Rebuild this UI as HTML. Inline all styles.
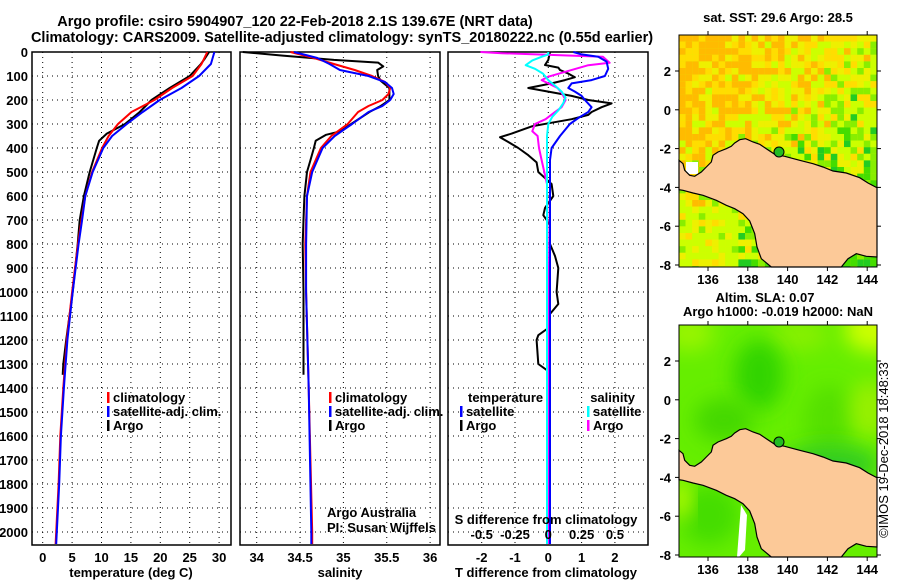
<!DOCTYPE html>
<html><head><meta charset="utf-8"><style>
html,body{margin:0;padding:0;background:#fff;}
svg{display:block;font-family:"Liberation Sans",sans-serif;}
.b{font-weight:bold;font-size:13px;}
.t{font-weight:bold;font-size:14.5px;}
</style></head><body>
<svg id="c" width="900" height="580" viewBox="0 0 900 580" xmlns="http://www.w3.org/2000/svg">
<text class="t" x="295" y="26" text-anchor="middle">Argo profile: csiro 5904907_120 22-Feb-2018 2.1S 139.67E (NRT data)</text>
<text class="t" x="342" y="42" text-anchor="middle">Climatology: CARS2009. Satellite-adjusted climatology: synTS_20180222.nc (0.55d earlier)</text>
<g id="p1"></g>
<g id="p2"></g>
<g id="p3"></g>
<g id="m1"></g>
<g id="m2"></g>
<text x="888" y="450" font-size="13" text-anchor="middle" transform="rotate(-90 888 450)">©IMOS 19-Dec-2018 18:48:33</text>
</svg>
<script>
// ---------- data ----------
const tClimDepth=[0,50,100,150,200,250,300,350,400,500,600,700,800,1000,1200,1400,1600,1800,2000,2050];
const tClim=[28.0,27.0,25.5,22.0,19.0,15.1,12.8,11.2,10.1,8.4,7.25,6.6,6.0,5.0,4.1,3.5,3.0,2.7,2.3,2.2];
const tSatDepth=[0,50,100,150,200,250,300,350,400,500,600,700,800,1000,1200,1400,1600,1800,2000,2050];
const tSat=[29.2,28.6,26.6,23.6,19.9,17.0,14.3,11.8,10.3,8.5,7.25,6.7,6.1,5.1,4.2,3.6,3.1,2.8,2.4,2.3];
const tArgoDepth=[0,30,50,100,150,200,250,300,340,370,400,500,600,700,800,1000,1200,1300,1345];
const tArgo=[28.3,27.5,26.9,25.0,21.6,18.5,16.5,14.0,10.9,9.6,9.2,8.0,7.0,6.3,5.96,5.1,4.0,3.5,3.4];
const sClimDepth=[0,25,50,75,100,125,150,175,200,225,250,300,350,400,500,600,800,1000,1400,2000,2050];
const sClim=[34.39,34.66,34.89,35.13,35.33,35.48,35.54,35.52,35.45,35.29,35.17,35.05,34.86,34.74,34.62,34.58,34.56,34.57,34.6,34.64,34.64];
const sSatDepth=[0,25,50,75,100,125,150,175,200,225,250,300,350,400,500,600,800,1000,1400,2000,2050];
const sSat=[34.43,34.7,34.84,34.96,35.29,35.48,35.56,35.58,35.54,35.45,35.29,35.1,34.9,34.76,34.64,34.58,34.57,34.57,34.6,34.63,34.63];
const sArgoDepth=[0,15,33,44,60,75,100,120,150,200,225,250,300,330,345,370,400,450,500,600,700,800,1000,1300,1345];
const sArgo=[33.84,34.3,34.89,35.4,35.46,35.39,35.4,35.43,35.53,35.53,35.43,35.3,35.09,34.97,34.8,34.68,34.66,34.62,34.58,34.55,34.54,34.53,34.54,34.54,34.54];
const dtArgoDepth=[0,33,54,65,75,90,105,117,131,150,165,183,200,214,230,250,262,280,297,310,340,355,375,400,430,460,500,550,600,650,680,720,800,850,900,1000,1050,1100,1150,1180,1200,1300,1330];
const dtArgo=[0.05,0.0,-0.1,0.3,0.35,0.6,0.8,0.5,0.1,-0.6,0.0,0.7,1.2,1.9,1.6,1.3,1.2,0.7,0.0,-0.5,-1.1,-1.45,-1.2,-0.9,-0.6,-0.35,-0.3,0.1,0.15,-0.1,-0.15,0.05,0.05,0.2,0.3,0.25,0.3,0.0,0.0,-0.3,-0.35,-0.3,0.0];
const dtSatDepth=[0,10,20,40,70,100,117,131,150,165,183,200,230,250,275,300,350,400,450,1000,2050];
const dtSat=[0.75,1.0,1.5,1.75,1.8,1.7,1.3,0.7,0.6,0.8,1.0,1.1,1.3,1.2,0.9,0.65,0.35,0.1,0.05,0.05,0.05];
const dsArgoDepth=[0,5,20,45,55,103,117,131,150,170,200,230,250,280,300,330,350,400,450,500,550,1000,2050];
const dsArgo=[-0.51,-0.35,0.41,0.46,0.3,0.0,-0.05,0.0,0.07,0.1,0.13,0.1,0.05,-0.02,-0.1,-0.12,-0.08,-0.07,-0.05,-0.03,-0.01,0.0,0.0];
const dsSatDepth=[0,10,20,35,55,70,90,117,140,165,190,215,240,270,300,350,2050];
const dsSat=[0.0,0.0,-0.05,-0.12,-0.17,-0.1,-0.04,0.0,0.05,0.1,0.13,0.11,0.08,0.03,0.0,-0.01,-0.01];
const depthTicks=[0,100,200,300,400,500,600,700,800,900,1000,1100,1200,1300,1400,1500,1600,1700,1800,1900,2000];
const tTicks=[0,5,10,15,20,25,30];
const sTicks=[34,34.5,35,35.5,36];
const dtTicks=[-2,-1,0,1,2];
const dsTicks=[-0.5,-0.25,0,0.25,0.5];
const latTicks=[2,0,-2,-4,-6,-8];
const lonTicks=[136,138,140,142,144];

// ---------- helpers ----------
const NS='http://www.w3.org/2000/svg';
function mk(tag,parent,attrs){const e=document.createElementNS(NS,tag);for(const k in attrs)e.setAttribute(k,attrs[k]);parent.appendChild(e);return e;}
const TOP=52,BOT=545;
const yD=d=>TOP+d*0.24;
const xT=v=>42.7+v*5.88;
const xS=v=>256.7+(v-34)*86.7;
const xDT=v=>548.3+v*33.3;
const xDS=v=>548.3+v*133.2;

function panel(g,L,R,xTicks,xf,labelFmt,showDepth){
  const r=mk('rect',g,{x:L,y:TOP,width:R-L,height:BOT-TOP,fill:'#fff',stroke:'#000','stroke-width':1.5});
  
  
  depthTicks.forEach(d=>{
    const l=mk('line',g,{x1:L,x2:R,y1:yD(d),y2:yD(d),stroke:'#000','stroke-width':1,'stroke-dasharray':'1 4'});
    
    
    if(showDepth){
      const t=mk('text',g,{x:28,y:yD(d)+5,'text-anchor':'end',class:'b'});t.textContent=d;
      
      
    }
  });
  xTicks.forEach(v=>{
    const l=mk('line',g,{x1:xf(v),x2:xf(v),y1:TOP,y2:BOT,stroke:'#000','stroke-width':1,'stroke-dasharray':'1 4'});
    
    
    if(labelFmt){
      const t=mk('text',g,{x:xf(v),y:562,'text-anchor':'middle',class:'b'});t.textContent=labelFmt(v);
      
      
    }
  });
}
function series(g,depths,vals,xf,color,w,name){
  const pts=depths.map((d,i)=>xf(vals[i]).toFixed(1)+','+yD(d).toFixed(1)).join(' ');
  const p=mk('polyline',g,{points:pts,fill:'none',stroke:color,'stroke-width':w,'stroke-linejoin':'round'});
  
  
}
function legend(g,x,y,color,label){
  const l=mk('rect',g,{x:x,y:y-10,width:2.5,height:11,fill:color});
  
  
  const t=mk('text',g,{x:x+6,y:y,class:'b'});t.textContent=label;
  
  
}
function txt(g,x,y,s,cls,anchor,name){
  const t=mk('text',g,{x:x,y:y,class:cls||'b','text-anchor':anchor||'start'});t.textContent=s;
  
  
  return t;
}

// ---------- panel 1 ----------
const p1=document.getElementById('p1');
panel(p1,32,231,tTicks,xT,v=>v,true);
series(p1,tArgoDepth,tArgo,xT,'#000',2,'argo-temperature-line');
series(p1,tClimDepth,tClim,xT,'#f00',2,'climatology-temperature-line');
series(p1,tSatDepth,tSat,xT,'#00f',2,'satellite-temperature-line');
legend(p1,107,402,'#f00','climatology');
legend(p1,107,416,'#00f','satellite-adj. clim.');
legend(p1,107,430,'#000','Argo');
txt(p1,131,577,'temperature (deg C)','b','middle','x-axis-title-temperature');

// ---------- panel 2 ----------
const p2=document.getElementById('p2');
panel(p2,240,440,sTicks,xS,v=>v,false);
series(p2,sArgoDepth,sArgo,xS,'#000',2,'argo-salinity-line');
series(p2,sClimDepth,sClim,xS,'#f00',2,'climatology-salinity-line');
series(p2,sSatDepth,sSat,xS,'#00f',2,'satellite-salinity-line');
legend(p2,329,402,'#f00','climatology');
legend(p2,329,416,'#00f','satellite-adj. clim.');
legend(p2,329,430,'#000','Argo');
const a1=txt(p2,327,517,'Argo Australia','','start','credit-argo-australia');a1.setAttribute('font-size','12');
const a2=txt(p2,327,532,'PI: Susan Wijffels','','start','credit-pi');a2.setAttribute('font-size','12');
txt(p2,340,577,'salinity','b','middle','x-axis-title-salinity');

// ---------- panel 3 ----------
const p3=document.getElementById('p3');
panel(p3,448,648,dtTicks,xDT,v=>v,false);
series(p3,dtArgoDepth,dtArgo,xDT,'#000',2,'argo-t-diff-line');
series(p3,dsArgoDepth,dsArgo,xDS,'#f0f',2,'argo-s-diff-line');
series(p3,dtSatDepth,dtSat,xDT,'#00f',2,'satellite-t-diff-line');
series(p3,dsSatDepth,dsSat,xDS,'#0ff',2,'satellite-s-diff-line');
txt(p3,468,402,'temperature','b','start','legend-temperature-heading');
txt(p3,635,402,'salinity','b','end','legend-salinity-heading');
legend(p3,460,416,'#00f','satellite');
legend(p3,460,430,'#000','Argo');
legend(p3,587,416,'#0ff','satellite');
legend(p3,587,430,'#f0f','Argo');
txt(p3,546,524,'S difference from climatology','b','middle','s-diff-axis-title');
dsTicks.forEach(v=>{txt(p3,xDS(v),539,String(v),'b','middle','s-diff-tick-label');});
txt(p3,546,577,'T difference from climatology','b','middle','t-diff-axis-title');

// ---------- maps ----------
const MX=679,MW=198,MH=232;
const coast=[[58,480],[70,490],[75,510],[90,525],[105,528],[125,515],[140,500],[155,485],[160,465],[175,455],[200,445],[215,438],[225,428],[240,418],[258,415],[280,425],[300,432],[320,445],[345,462],[375,468],[420,480],[460,490],[490,500],[520,512],[560,518],[600,532],[625,548],[652,562],[652,770],[620,768],[590,760],[565,775],[545,800],[335,800],[305,775],[292,740],[285,700],[270,662],[250,640],[225,625],[200,615],[170,600],[130,585],[100,578],[70,570],[58,568]];
function coastPts(top){return coast.map(p=>(MX+(p[0]-58)/3).toFixed(1)+','+(top+(p[1]-104)/3).toFixed(1)).join(' ');}
function mapAxes(g,top){
  const yl=v=>top+36+(2-v)*19.4;
  const xl=v=>708+(v-136)*19.9;
  latTicks.forEach(v=>{
    txt(g,671,yl(v)+5,String(v),'b','end','latitude-tick-label');
    const a=mk('line',g,{x1:MX-4,x2:MX,y1:yl(v),y2:yl(v),stroke:'#000'});
    
    const b=mk('line',g,{x1:MX+MW,x2:MX+MW+4,y1:yl(v),y2:yl(v),stroke:'#000'});
    
  });
  lonTicks.forEach(v=>{
    txt(g,xl(v),top+MH+17,String(v),'b','middle','longitude-tick-label');
    const a=mk('line',g,{x1:xl(v),x2:xl(v),y1:top-4,y2:top,stroke:'#000'});
    
    const b=mk('line',g,{x1:xl(v),x2:xl(v),y1:top+MH,y2:top+MH+4,stroke:'#000'});
    
  });
}
function land(g,top){
  const p=mk('polygon',g,{points:coastPts(top),fill:'#fcc998',stroke:'#000','stroke-width':1.2});
  
  
  const c=mk('circle',g,{cx:MX+100,cy:top+117,r:5,fill:'#22bb22',stroke:'#000','stroke-width':1});
  
  
  const f=mk('rect',g,{x:MX,y:top,width:MW,height:MH,fill:'none',stroke:'#000','stroke-width':1});
  
  
}
// SST map texture
const m1=document.getElementById('m1');
txt(m1,778,22,'sat. SST: 29.6 Argo: 28.5','b','middle','sst-map-title');
const T1=35;
const bg1=mk('rect',m1,{x:MX,y:T1,width:MW,height:MH,fill:'#ddf500'});

const cs=6.6;let h=12345;
function rnd(){h=(h*1103515245+12345)%2147483648;return h/2147483648;}
for(let j=0;j<Math.ceil(MH/cs);j++){for(let i=0;i<Math.ceil(MW/cs);i++){
  const fx=i*cs/MW,fy=j*cs/MH;const r=rnd();const r2=rnd();
  let col;
  let warm=(1-fx)*0.5+(0.5-fy)*0.5+(r-0.5)*0.9;
  let cool=(fx-0.3)*0.6+(fy-0.4)*1.0+(r2-0.5)*0.9;
  if(fy>0.72&&fx<0.3){cool=(r2-0.55)*1.2;warm=(0.3-fx)*0.6+(r-0.65);}
  if(cool>0.6)col=r>0.5?'#22cc22':'#44dd00';
  else if(cool>0.4)col='#88ee00';
  else if(warm>0.6)col='#ffbb00';
  else if(warm>0.4)col='#ffdd00';
  else if(warm>0.15)col='#eef000';
  else col='#ccff00';
  const c=mk('rect',m1,{x:MX+i*cs,y:T1+j*cs,width:Math.min(cs,MW-i*cs),height:Math.min(cs,MH-j*cs),fill:col});
  
  
}}
const wp=mk('rect',m1,{x:MX+7,y:T1+127,width:12,height:12,fill:'#fff'});

land(m1,T1);mapAxes(m1,T1);
// SLA map
const m2=document.getElementById('m2');
txt(m2,765,302,'Altim. SLA: 0.07','b','middle','sla-map-title');
txt(m2,778,316,'Argo h1000: -0.019 h2000: NaN','b','middle','sla-map-subtitle');
const T2=325;
const defs=mk('defs',m2,{});
const flt=mk('filter',defs,{id:'bl',x:'-50%',y:'-50%',width:'200%',height:'200%'});
mk('feGaussianBlur',flt,{stdDeviation:10});
const cp=mk('clipPath',defs,{id:'mc'});mk('rect',cp,{x:MX,y:T2,width:MW,height:MH});
const gm=mk('g',m2,{'clip-path':'url(#mc)'});
const bg2=mk('rect',gm,{x:MX,y:T2,width:MW,height:MH,fill:'#66ee00'});

const blobs=[[MX+195,T2+5,30,22,'#ccff00'],[MX+10,T2+8,25,18,'#99f500'],[MX+120,T2+10,30,15,'#88f000'],[MX+80,T2+50,25,35,'#33d400'],[MX+45,T2+95,30,22,'#44d800'],[MX+150,T2+95,25,35,'#55e000'],[MX+190,T2+85,18,30,'#99f000'],[MX+150,T2+140,50,20,'#33cc22'],[MX+30,T2+190,30,30,'#44dd00'],[MX+3,T2+175,8,20,'#ccff00']];
blobs.forEach(b=>{const e=mk('ellipse',gm,{cx:b[0],cy:b[1],rx:b[2],ry:b[3],fill:b[4],filter:'url(#bl)'});
  });
const wp2=mk('polygon',gm,{points:`${MX+62},${T2+180} ${MX+68},${T2+190} ${MX+66},${T2+225} ${MX+60},${T2+232} ${MX+58},${T2+232}`,fill:'#fff'});

land(m2,T2);mapAxes(m2,T2);
</script>
</body></html>
